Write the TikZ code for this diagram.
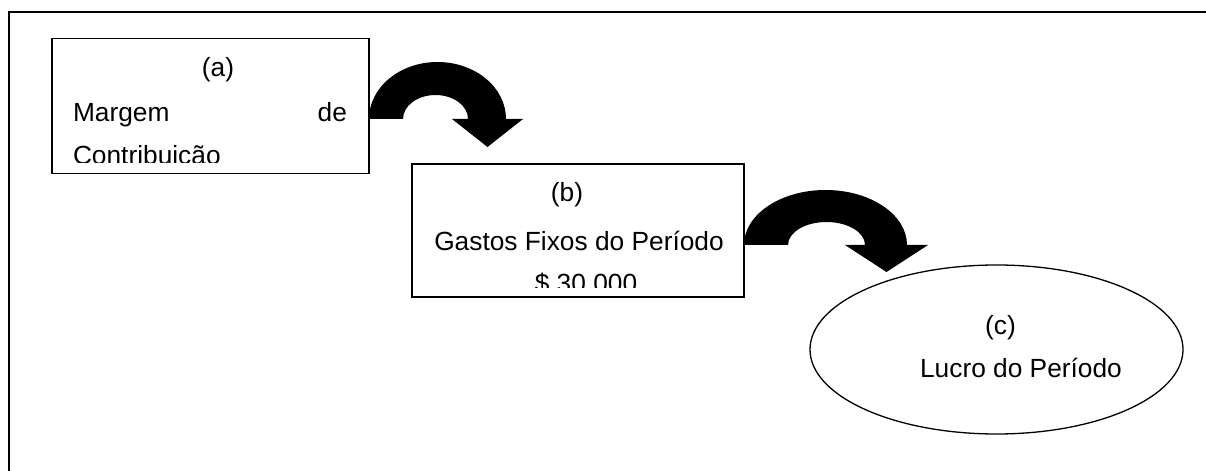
\documentclass[tikz,border=0pt]{standalone}
\usepackage{fontspec}
\setmainfont{Liberation Sans}
\usetikzlibrary{shapes.geometric}
\begin{document}
\begin{tikzpicture}[x=1bp,y=-1bp,
  every node/.style={inner sep=0pt, outer sep=0pt, font=\fontsize{26.4pt}{31pt}\selectfont},
  stagebox/.style={draw, line width=1.3bp, minimum width=#1},
  txt/.style={anchor=base},
  blockarrow/.style={fill=black},
  frame/.style={line width=2bp}]
\useasboundingbox (0,0) rectangle (1206,471);

% open frame: left and top edges
\coordinate (fbl) at (8.5,471);
\coordinate (ftl) at (8.5,12.5);
\coordinate (ftr) at (1206,12.5);
\draw[frame] (fbl) -- (ftl) -- (ftr);

% stage (a)
\node[stagebox=317bp, minimum height=135bp] (a) at (210.5,106) {};
\node[txt] (alab) at (218,77) {(a)};
\node[txt, anchor=base west] (amarg) at (73,122) {Margem};
\node[txt, anchor=base east] (ade) at (347,122) {de};
\begin{scope}
  \clip (52,130) rectangle (370,162.5);
  \node[txt, anchor=base west] (acont) at (73,165) {Contribuição};
\end{scope}

% stage (b)
\node[stagebox=332bp, minimum height=133bp] (b) at (578,230.5) {};
\node[txt] (blab) at (567,202) {(b)};
\node[txt] (bgast) at (579,251) {Gastos Fixos do Período};
\begin{scope}
  \clip (412,260) rectangle (744,288);
  \node[txt] (bval) at (586,292.5) {\$ 30.000};
\end{scope}

% stage (c)
\node[draw, ellipse, line width=1.3bp, minimum width=373bp, minimum height=169bp] (c) at (996.5,349.5) {};
\node[txt] (clab) at (1000.5,335) {(c)};
\node[txt] (clucro) at (1021,378) {Lucro do Período};

% curved block arrows between the stages
\fill[blockarrow] (a.east |- 0,119)
  arc[start angle=180, end angle=360, x radius=68.5, y radius=57]
  -- (523,119) -- (487.5,147) -- (452,119) -- (468,119)
  arc[start angle=360, end angle=180, x radius=32.5, y radius=24]
  -- cycle;
\fill[blockarrow] (b.east |- 0,245)
  arc[start angle=180, end angle=360, x radius=81.5, y radius=55]
  -- (928,245) -- (886.5,272) -- (845,245) -- (865,245)
  arc[start angle=360, end angle=180, x radius=38.5, y radius=23]
  -- cycle;
\end{tikzpicture}
\end{document}
